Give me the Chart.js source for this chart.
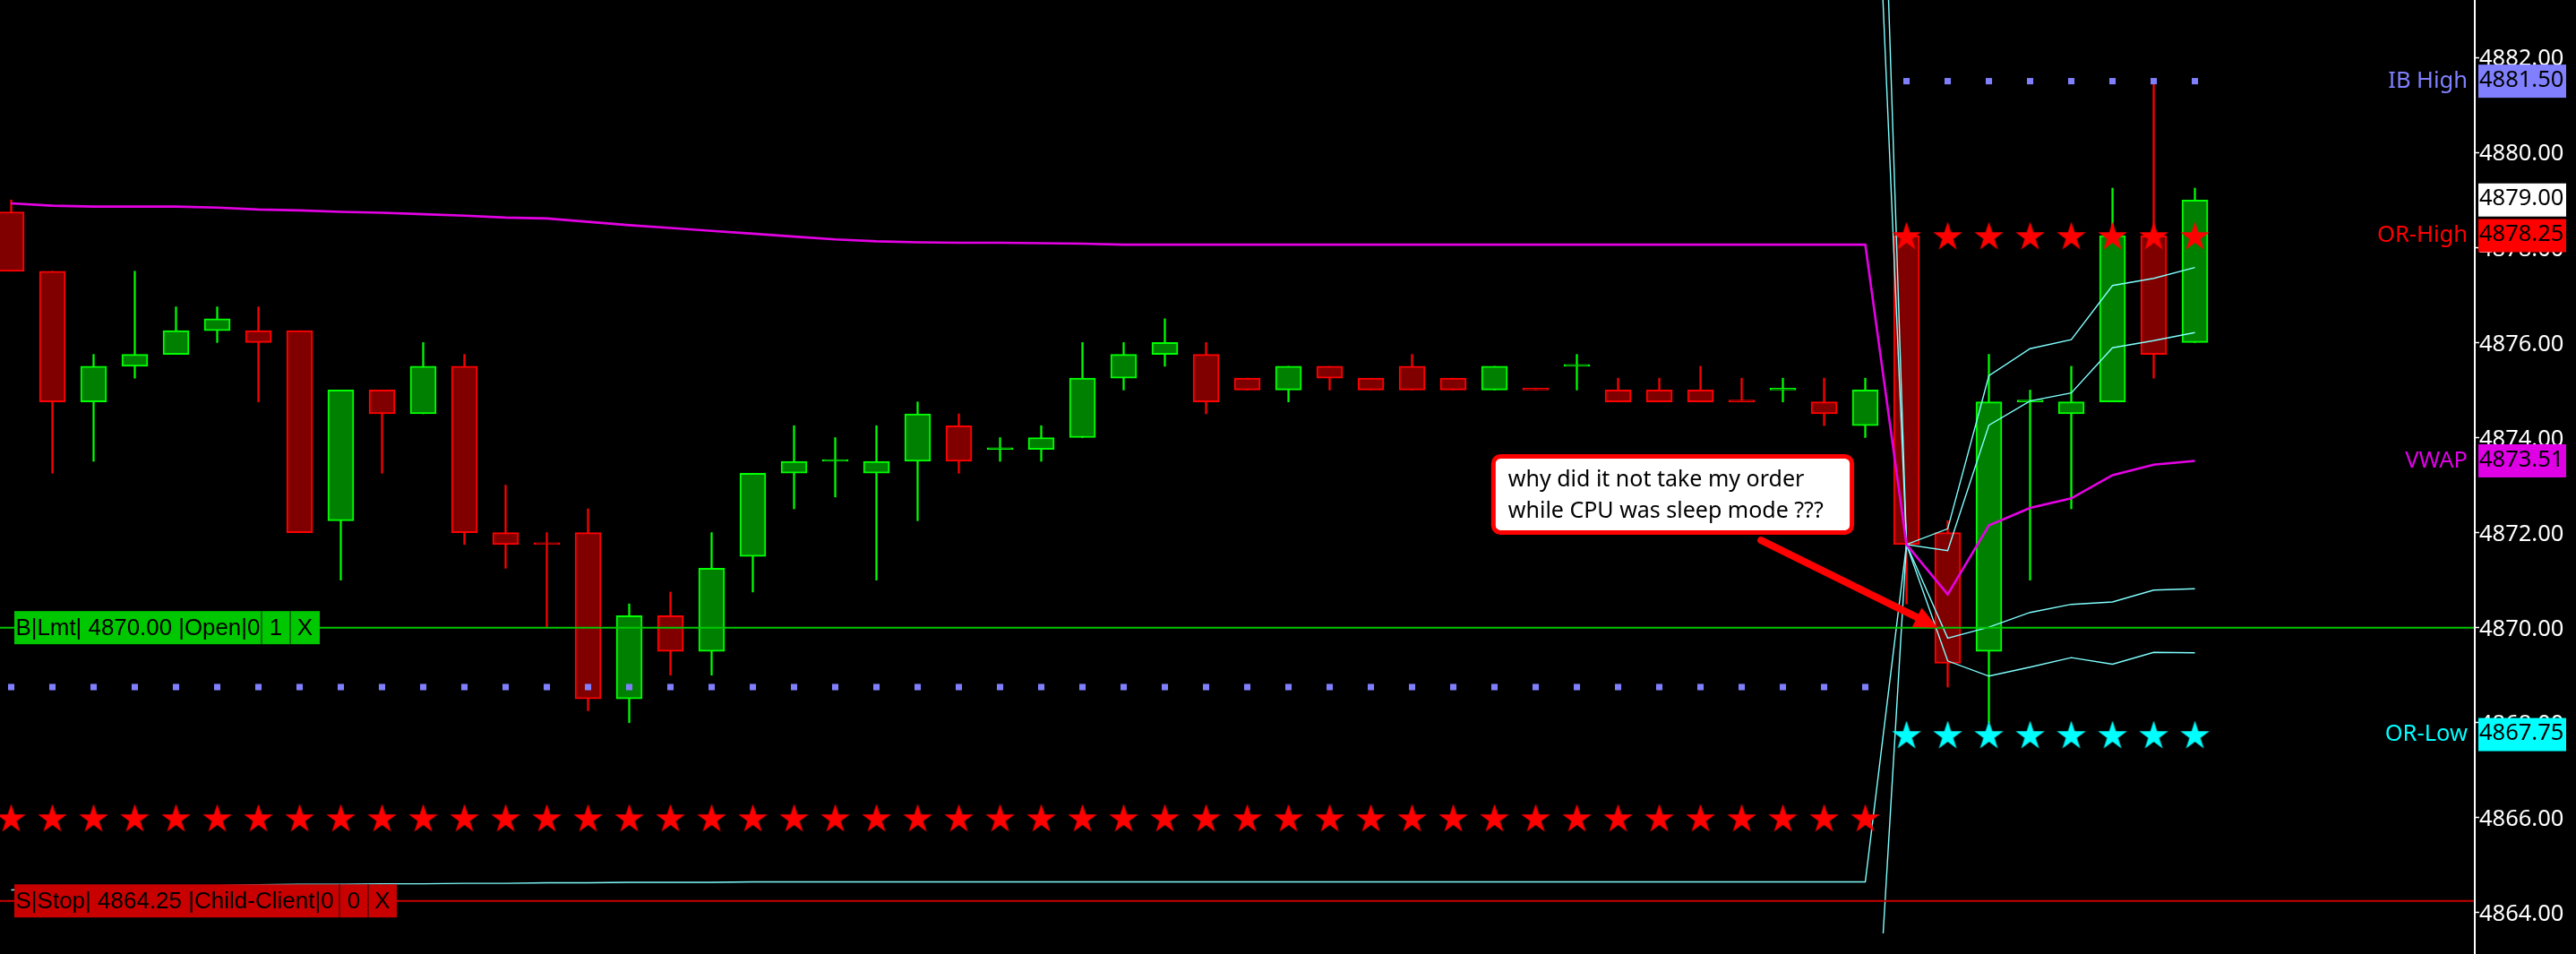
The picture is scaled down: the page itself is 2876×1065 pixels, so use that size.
<!DOCTYPE html>
<html>
<head>
<meta charset="utf-8">
<script src="https://cdn.jsdelivr.net/npm/chart.js@4.4.1/dist/chart.umd.min.js"></script>
<style>
html,body{margin:0;padding:0;background:#000;overflow:hidden}
canvas{display:block}
</style>
</head>
<body>
<canvas id="c" width="2876" height="1065"></canvas>
<script>
// ---------- DATA ----------
const opens  = [4878.75,4877.5,4874.75,4875.5,4875.75,4876.25,4876.25,4876.25,4872.25,4875.0,
                4874.5,4875.5,4872.0,4871.75,4872.0,4868.5,4870.25,4869.5,4871.5,4873.25,
                4873.5,4873.25,4873.5,4874.25,4873.75,4873.75,4874.0,4875.25,4875.75,4875.75,
                4875.25,4875.0,4875.5,4875.25,4875.5,4875.25,4875.0,4875.0,4875.5,4875.0,
                4875.0,4875.0,4874.75,4875.0,4874.75,4874.25,4878.25,4872.0,4869.5,4874.75,
                4874.5,4874.75,4878.25,4876.0];
const highs  = [4879.0,4877.5,4875.75,4877.5,4876.75,4876.75,4876.75,4876.25,4875.0,4875.0,
                4876.0,4875.75,4873.0,4872.0,4872.5,4870.5,4870.75,4872.0,4873.25,4874.25,
                4874.0,4874.25,4874.75,4874.5,4874.0,4874.25,4876.0,4876.0,4876.5,4876.0,
                4875.25,4875.5,4875.5,4875.25,4875.75,4875.25,4875.5,4875.0,4875.75,4875.25,
                4875.25,4875.5,4875.25,4875.25,4875.25,4875.25,4878.25,4872.25,4875.75,4875.0,
                4875.5,4879.25,4881.5,4879.25];
const lows   = [4877.5,4873.25,4873.5,4875.25,4875.75,4876.0,4874.75,4872.0,4871.0,4873.25,
                4874.5,4871.75,4871.25,4870.0,4868.25,4868.0,4869.0,4869.0,4870.75,4872.5,
                4872.75,4871.0,4872.25,4873.25,4873.5,4873.5,4874.0,4875.0,4875.5,4874.5,
                4875.0,4874.75,4875.0,4875.0,4875.0,4875.0,4875.0,4875.0,4875.0,4874.75,
                4874.75,4874.75,4874.75,4874.75,4874.25,4874.0,4870.5,4868.75,4868.0,4871.0,
                4872.5,4874.75,4875.25,4876.0];
const closes = [4877.5,4874.75,4875.5,4875.75,4876.25,4876.5,4876.0,4872.0,4875.0,4874.5,
                4875.5,4872.0,4871.75,4871.75,4868.5,4870.25,4869.5,4871.25,4873.25,4873.5,
                4873.5,4873.5,4874.5,4873.5,4873.75,4874.0,4875.25,4875.75,4876.0,4874.75,
                4875.0,4875.5,4875.25,4875.0,4875.0,4875.0,4875.5,4875.0,4875.5,4874.75,
                4874.75,4874.75,4874.75,4875.0,4874.5,4875.0,4871.75,4869.25,4874.75,4874.75,
                4874.75,4878.25,4875.75,4879.0];
const greenDoji = [20,24,38,43,49];

const vwap = [4878.93,4878.88,4878.86,4878.86,4878.86,4878.84,4878.80,4878.78,4878.75,4878.73,
              4878.70,4878.67,4878.63,4878.61,4878.54,4878.47,4878.41,4878.35,4878.29,4878.23,
              4878.17,4878.13,4878.11,4878.10,4878.10,4878.09,4878.08,4878.06,4878.06,4878.06,
              4878.06,4878.06,4878.06,4878.06,4878.06,4878.06,4878.06,4878.06,4878.06,4878.06,
              4878.06,4878.06,4878.06,4878.06,4878.06,4878.06,4871.75,4870.70,4872.15,4872.52,
              4872.72,4873.21,4873.43,4873.51];
const lowerBand1 = [4864.48,4864.52,4864.54,4864.55,4864.56,4864.57,4864.59,4864.60,4864.60,4864.61,
                    4864.61,4864.62,4864.62,4864.63,4864.63,4864.64,4864.64,4864.64,4864.65,4864.65,
                    4864.65,4864.65,4864.65,4864.65,4864.65,4864.65,4864.65,4864.65,4864.65,4864.65,
                    4864.65,4864.65,4864.65,4864.65,4864.65,4864.65,4864.65,4864.65,4864.65,4864.65,
                    4864.65,4864.65,4864.65,4864.65,4864.65,4864.65,4871.75,4869.78,4870.01,4870.32,
                    4870.49,4870.54,4870.79,4870.82];
const bandStart = 45; // the following bands are listed from this bar on
const upperBand1 = [4891.8,4871.75,4871.62,4874.26,4874.77,4874.94,4875.89,4876.04,4876.21];
const upperBand2 = [4898.1,4871.75,4872.08,4875.30,4875.87,4876.06,4877.20,4877.35,4877.58];
const lowerBand2 = [4857.3,4871.75,4869.30,4868.98,4869.17,4869.37,4869.23,4869.48,4869.47];

const sessionStart = 46;
const priorDotLevel = 4868.75;
const priorStarLevel = 4866.00;
const ibHigh = 4881.50;
const orHigh = 4878.25;
const orLow = 4867.75;
const lastPrice = 4879.00;
const vwapNow = 4873.51;

const yTicks = [4864,4866,4868,4870,4872,4874,4876,4878,4880,4882];

const levelNames  = ['IB High','OR-High','VWAP','OR-Low'];
const levelValues = [ibHigh, orHigh, vwapNow, orLow];
const levelColors = ['#8080FF','#FF0000','#E000E6','#00FFFF'];

const orderPrices = [4870.00, 4864.25];
const orderTexts  = [['B|Lmt| 4870.00 |Open|0','1','X'], ['S|Stop| 4864.25 |Child-Client|0','0','X']];
const noteLines = ['why did it not take my order','while CPU was sleep mode ???'];

// ---------- helpers ----------
const idx = opens.map((_, i) => i);
const isUp = i => closes[i] > opens[i] || (closes[i] === opens[i] && greenDoji.includes(i));
const bright = idx.map(i => isUp(i) ? '#00FF00' : '#FF0000');
const dark = idx.map(i => isUp(i) ? '#008000' : '#800000');

function makeStar(color, R) {
  const s = Math.ceil(R * 2 + 2);
  const c = document.createElement('canvas');
  c.width = s; c.height = s;
  const g = c.getContext('2d');
  g.fillStyle = color;
  g.beginPath();
  const cx = s / 2, cy = s / 2 + 0.0955 * R;
  for (let k = 0; k < 10; k++) {
    const r = k % 2 === 0 ? R : R * 0.382;
    const a = -Math.PI / 2 + k * Math.PI / 5;
    g.lineTo(cx + r * Math.cos(a), cy + r * Math.sin(a));
  }
  g.closePath();
  g.fill();
  return c;
}
const redStar = makeStar('#FF0000', 17);
const cyanStar = makeStar('#00FFFF', 17);

const xMin = -0.2717, xMax = 59.793;
const yMin = 4863.566, yMax = 4883.208;

const pre = idx.filter(i => i < sessionStart);
const post = idx.filter(i => i >= sessionStart);

const datasets = [
  { type: 'bar', data: idx.map(i => ({x: i, y: [lows[i], highs[i]]})),
    backgroundColor: bright, borderWidth: 0, barThickness: 1.6, grouped: false, minBarLength: 1, order: 20 },
  { type: 'bar', data: idx.map(i => ({x: i, y: [opens[i], closes[i]]})),
    backgroundColor: dark, borderColor: bright, borderWidth: 2, borderSkipped: false,
    barThickness: 29, grouped: false, minBarLength: 2, order: 19 },
  { type: 'line', data: idx.map(i => ({x: i, y: lowerBand1[i]})), borderColor: '#80FFFF', borderWidth: 1.4,
    pointRadius: 0, tension: 0, order: 8 },
  { type: 'line', data: upperBand1.map((v, k) => ({x: bandStart + k, y: v})), borderColor: '#80FFFF', borderWidth: 1.4,
    pointRadius: 0, tension: 0, order: 8 },
  { type: 'line', data: upperBand2.map((v, k) => ({x: bandStart + k, y: v})), borderColor: '#80FFFF', borderWidth: 1.4,
    pointRadius: 0, tension: 0, order: 8 },
  { type: 'line', data: lowerBand2.map((v, k) => ({x: bandStart + k, y: v})), borderColor: '#80FFFF', borderWidth: 1.4,
    pointRadius: 0, tension: 0, order: 8 },
  { type: 'line', data: idx.map(i => ({x: i, y: vwap[i]})), borderColor: '#E600E6', borderWidth: 2.6,
    pointRadius: 0, tension: 0, order: 7 },
  { type: 'line', data: [{x: xMin - 1, y: orderPrices[0]}, {x: xMax + 1, y: orderPrices[0]}],
    borderColor: '#00C800', borderWidth: 2, pointRadius: 0, order: 6 },
  { type: 'line', data: [{x: xMin - 1, y: orderPrices[1]}, {x: xMax + 1, y: orderPrices[1]}],
    borderColor: '#C80000', borderWidth: 2, pointRadius: 0, order: 6 },
  { type: 'line', showLine: false, data: pre.map(i => ({x: i, y: priorDotLevel})).concat(post.map(i => ({x: i, y: ibHigh}))),
    pointStyle: 'rect', pointRadius: 5, pointBackgroundColor: '#8080FF', pointBorderWidth: 0, order: 5 },
  { type: 'line', showLine: false, data: pre.map(i => ({x: i, y: priorStarLevel})).concat(post.map(i => ({x: i, y: orHigh}))),
    pointStyle: redStar, pointRadius: 3, order: 4 },
  { type: 'line', showLine: false, data: post.map(i => ({x: i, y: orLow})),
    pointStyle: cyanStar, pointRadius: 3, order: 4 }
];

const bgPlugin = {
  id: 'bg',
  beforeDraw(chart) {
    const c = chart.ctx;
    c.save(); c.fillStyle = '#000'; c.fillRect(0, 0, chart.width, chart.height); c.restore();
  }
};

function fitSize(ctx, text, family, target, maxSize) {
  ctx.font = maxSize + 'px ' + family;
  const w = ctx.measureText(text).width;
  return Math.min(maxSize, maxSize * target / w);
}

const overlay = {
  id: 'overlay',
  afterDraw(chart) {
    const c = chart.ctx;
    const xs = chart.scales.x, ys = chart.scales.y;
    const axisX = ys.left;
    c.save();
    // axis line full height
    c.strokeStyle = '#FFFFFF'; c.lineWidth = 2;
    c.beginPath(); c.moveTo(axisX, 0); c.lineTo(axisX, chart.height); c.stroke();

    const font = '25.5px "Noto Sans", sans-serif';
    c.font = font; c.textBaseline = 'middle';
    // value boxes
    const boxes = [[ibHigh, '#8080FF'], [lastPrice, '#FFFFFF'], [orHigh, '#FF0000'], [vwapNow, '#E000E6'], [orLow, '#00FFFF']];
    boxes.forEach(([v, col]) => {
      const y = ys.getPixelForValue(v);
      c.fillStyle = col;
      c.fillRect(axisX + 4, y - 18.5, 98, 37);
      c.fillStyle = '#000';
      c.textAlign = 'left';
      c.fillText(v.toFixed(2), axisX + 5, y - 1);
    });
    // level names
    levelNames.forEach((n, k) => {
      const y = ys.getPixelForValue(levelValues[k]);
      c.fillStyle = levelColors[k];
      c.textAlign = 'right';
      c.fillText(n, axisX - 8, y);
    });

    // order boxes
    const cellEdges = [[16, 292, 324, 357], [16, 379, 411, 443]];
    const cellColors = ['#00C800', '#C80000'];
    orderPrices.forEach((p, k) => {
      const y = ys.getPixelForValue(p);
      const e = cellEdges[k];
      c.fillStyle = cellColors[k];
      c.fillRect(e[0], y - 18.5, e[3] - e[0], 37);
      c.strokeStyle = 'rgba(0,0,0,0.55)'; c.lineWidth = 1.5;
      [e[1], e[2]].forEach(xx => { c.beginPath(); c.moveTo(xx, y - 18.5); c.lineTo(xx, y + 18.5); c.stroke(); });
      const fam = '"Liberation Sans", Arial, sans-serif';
      const size = fitSize(c, orderTexts[k][0], fam, e[1] - e[0] - 3, 26);
      c.font = size + 'px ' + fam;
      c.fillStyle = '#000'; c.textAlign = 'left';
      c.fillText(orderTexts[k][0], e[0] + 1.5, y + 1);
      c.textAlign = 'center';
      c.fillText(orderTexts[k][1], (e[1] + e[2]) / 2, y + 1);
      c.fillText(orderTexts[k][2], (e[2] + e[3]) / 2, y + 1);
    });

    // annotation box
    const bx0 = xs.getPixelForValue(35.92), bx1 = xs.getPixelForValue(44.73);
    const by0 = ys.getPixelForValue(4873.651), by1 = ys.getPixelForValue(4871.955);
    c.beginPath();
    c.roundRect(bx0 + 2.5, by0 + 2.5, bx1 - bx0 - 5, by1 - by0 - 5, 8);
    c.fillStyle = '#FFFFFF'; c.fill();
    c.strokeStyle = '#FF0000'; c.lineWidth = 5; c.stroke();
    c.font = '25px "Noto Sans", sans-serif';
    c.fillStyle = '#000'; c.textAlign = 'left'; c.textBaseline = 'alphabetic';
    c.fillText(noteLines[0], bx0 + 19, by0 + 36);
    c.fillText(noteLines[1], bx0 + 19, by0 + 71);

    // arrow
    const tx = xs.getPixelForValue(42.47), ty = ys.getPixelForValue(4871.84);
    const hx = xs.getPixelForValue(46.76), hy = ys.getPixelForValue(4870.0);
    const ang = Math.atan2(hy - ty, hx - tx);
    const headLen = 26, headW = 12;
    const bxh = hx - headLen * Math.cos(ang), byh = hy - headLen * Math.sin(ang);
    c.strokeStyle = '#FF0000'; c.lineWidth = 8; c.lineCap = 'round';
    c.beginPath(); c.moveTo(tx, ty); c.lineTo(bxh, byh); c.stroke();
    c.fillStyle = '#FF0000';
    c.beginPath();
    c.moveTo(hx, hy);
    c.lineTo(bxh + headW * Math.sin(ang), byh - headW * Math.cos(ang));
    c.lineTo(bxh - headW * Math.sin(ang), byh + headW * Math.cos(ang));
    c.closePath(); c.fill();
    c.restore();
  }
};

new Chart(document.getElementById('c').getContext('2d'), {
  type: 'bar',
  data: { datasets },
  options: {
    responsive: false,
    animation: false,
    devicePixelRatio: 1,
    layout: { autoPadding: false, padding: { left: 0, right: 0, top: 0, bottom: 23 } },
    plugins: { legend: { display: false }, tooltip: { enabled: false } },
    scales: {
      x: { type: 'linear', min: xMin, max: xMax, display: false, offset: false },
      y: {
        type: 'linear', position: 'right', min: yMin, max: yMax,
        afterBuildTicks: s => { s.ticks = yTicks.map(v => ({ value: v })); },
        afterFit: s => { s.width = 113; s.paddingTop = 0; s.paddingBottom = 0; },
        border: { display: false },
        grid: { drawOnChartArea: false, drawTicks: true, tickLength: 5, tickColor: '#FFFFFF', tickWidth: 1.5, color: '#FFFFFF' },
        ticks: { color: '#FFFFFF', font: { family: '"Noto Sans", sans-serif', size: 25.5 }, padding: 0,
                 labelOffset: 2, autoSkip: false, callback: v => Number(v).toFixed(2) }
      }
    }
  },
  plugins: [bgPlugin, overlay]
});
</script>
</body>
</html>
